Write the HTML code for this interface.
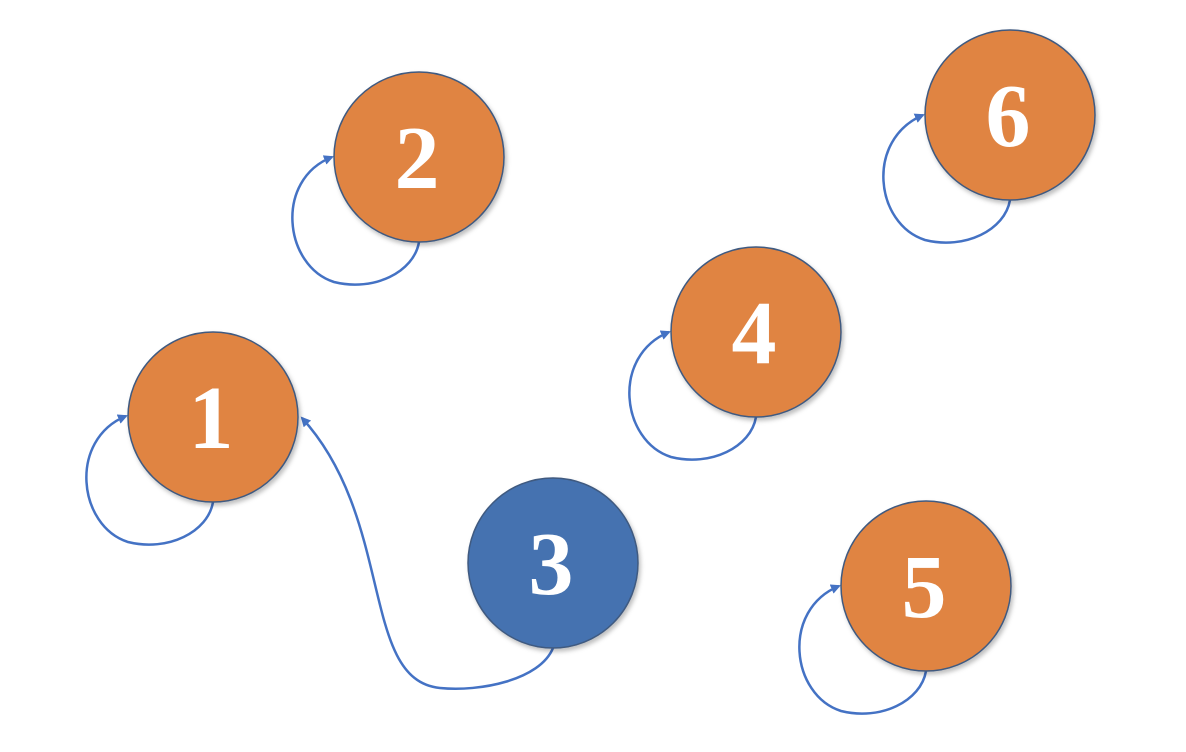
<!DOCTYPE html>
<html><head><style>
html,body{margin:0;padding:0;background:#fff;}
svg{display:block}
text{font-family:"Liberation Serif",serif;font-weight:bold;font-size:90px;fill:#fff;text-anchor:middle;}
</style></head><body>
<svg width="1186" height="752" viewBox="0 0 1186 752">
<defs>
<marker id="a" markerWidth="10" markerHeight="10" refX="8" refY="5" orient="auto" markerUnits="userSpaceOnUse">
<path d="M0,0 L10,5 L0,10 Z" fill="#4472C4"/></marker>
<filter id="s" x="-20%" y="-20%" width="140%" height="140%"><feDropShadow dx="2" dy="3" stdDeviation="2" flood-color="#000" flood-opacity="0.25"/></filter>
</defs>
<g fill="none" stroke="#4472C4" stroke-width="2.5">
<path d="M553,648 C540,680 480,692 440,688 C360,680 395,520 302,418" marker-end="url(#a)"/>
<path d="M213,502 C208,532 168,552 128,542 C78,526 68,440 126,416" marker-end="url(#a)"/>
<path d="M419,242 C414,272 374,292 334,282 C284,266 274,180 332,157" marker-end="url(#a)"/>
<path d="M1010,200 C1005,230 965,250 925,240 C875,224 865,140 923,115" marker-end="url(#a)"/>
<path d="M756,417 C751,447 711,467 671,457 C621,441 611,356 669,332" marker-end="url(#a)"/>
<path d="M926,671 C921,701 881,721 841,711 C791,695 781,610 839,586" marker-end="url(#a)"/>
</g>
<g stroke="#3f5a80" stroke-width="1.5" filter="url(#s)">
<circle cx="213" cy="417" r="85" fill="#E08442"/>
<circle cx="419" cy="157" r="85" fill="#E08442"/>
<circle cx="1010" cy="115" r="85" fill="#E08442"/>
<circle cx="756" cy="332" r="85" fill="#E08442"/>
<circle cx="926" cy="586" r="85" fill="#E08442"/>
<circle cx="553" cy="563" r="85" fill="#4472B0"/>
</g>
<text x="211" y="448">1</text>
<text x="417" y="188">2</text>
<text x="551" y="594">3</text>
<text x="754" y="363">4</text>
<text x="924" y="617">5</text>
<text x="1008" y="146">6</text>
</svg>
</body></html>
